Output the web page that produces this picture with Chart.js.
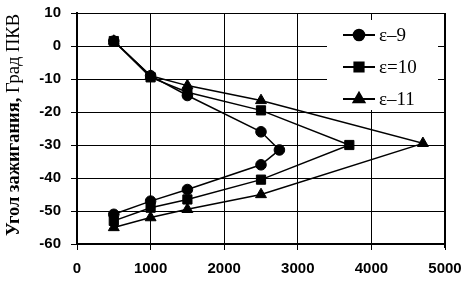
<!DOCTYPE html>
<html>
<head>
<meta charset="utf-8">
<script src="https://cdn.jsdelivr.net/npm/chart.js@4"></script>
<style>
  html, body { margin: 0; padding: 0; background: #fff; }
  #wrap { width: 469px; height: 281px; position: relative; }
</style>
</head>
<body>
<div id="wrap"><canvas id="angleChart"></canvas></div>
<script>
// Частота вращения (мин-1) и угол зажигания по трём степеням сжатия
const rpm9  = [500, 1000, 1500, 2500, 2750, 2500, 1500, 1000, 500];
const ang9  = [1.5, -9, -15, -26, -31.5, -36, -43.5, -47, -51];

const rpm10 = [500, 1000, 1500, 2500, 3700, 2500, 1500, 1000, 500];
const ang10 = [1.5, -9.5, -14, -19.5, -30, -40.5, -46.5, -49, -53];

const rpm11 = [500, 1000, 1500, 2500, 4700, 2500, 1500, 1000, 500];
const ang11 = [1.5, -9, -12, -16.5, -29.5, -45, -49.5, -52, -55];

const seriesLabels = ['ε–9', 'ε=10', 'ε–11'];
const seriesMarkers = ['circle', 'rect', 'triangle'];
const markerSizes = [5.3, 6.5, 6.3];

const xTicks = [0, 1000, 2000, 3000, 4000, 5000];
const yTicks = [10, 0, -10, -20, -30, -40, -50, -60];

const toPoints = (xs, ys) => xs.map((x, i) => ({ x: x, y: ys[i] }));

// Подпись оси Y: первая часть жирная, вторая обычная
const yTitlePlugin = {
    id: 'yTitle',
    afterDraw(chart) {
        const ctx = chart.ctx;
        const boldPart = 'Угол зажигания, ';
        const normPart = 'Град ПКВ';
        const size = 18.5;
        ctx.save();
        ctx.translate(14, 125);
        ctx.rotate(-Math.PI / 2);
        ctx.fillStyle = '#000';
        ctx.textBaseline = 'middle';
        ctx.font = 'bold ' + size + 'px "Liberation Serif", serif';
        const w1 = ctx.measureText(boldPart).width;
        ctx.font = size + 'px "Liberation Serif", serif';
        const w2 = ctx.measureText(normPart).width;
        let x = -(w1 + w2) / 2;
        ctx.font = 'bold ' + size + 'px "Liberation Serif", serif';
        ctx.textAlign = 'left';
        ctx.fillText(boldPart, x, 0);
        ctx.font = size + 'px "Liberation Serif", serif';
        ctx.fillText(normPart, x + w1, 0);
        ctx.restore();
    }
};

// Легенда внутри области графика на белом фоне
const innerLegendPlugin = {
    id: 'innerLegend',
    afterDraw(chart) {
        const ctx = chart.ctx;
        const left = 327, top = 20, width = 111, height = 90;
        ctx.save();
        ctx.fillStyle = '#fff';
        ctx.fillRect(left, top, width, height);
        chart.data.datasets.forEach((ds, i) => {
            const y = 35 + i * 32;
            ctx.strokeStyle = '#000';
            ctx.lineWidth = 2;
            ctx.beginPath();
            ctx.moveTo(343, y);
            ctx.lineTo(375, y);
            ctx.stroke();
            ctx.fillStyle = '#000';
            Chart.helpers.drawPoint(ctx, {
                pointStyle: ds.pointStyle,
                radius: ds.pointRadius,
                borderWidth: 1
            }, 359, y);
            ctx.fillStyle = '#000';
            ctx.font = '19px "Liberation Serif", serif';
            ctx.textAlign = 'left';
            ctx.textBaseline = 'middle';
            ctx.fillText(ds.label, 379, y + 1);
        });
        ctx.restore();
    }
};

const ctx = document.getElementById('angleChart').getContext('2d');

const datasets = [toPoints(rpm9, ang9), toPoints(rpm10, ang10), toPoints(rpm11, ang11)].map((pts, i) => ({
    label: seriesLabels[i],
    data: pts,
    borderColor: '#000',
    backgroundColor: '#000',
    borderWidth: 1.5,
    pointStyle: seriesMarkers[i],
    pointRadius: markerSizes[i],
    pointBackgroundColor: '#000',
    pointBorderColor: '#000',
    pointBorderWidth: 1,
    tension: 0,
    fill: false
}));

const chart = new Chart(ctx, {
    type: 'line',
    data: { datasets: datasets },
    options: {
        responsive: true,
        maintainAspectRatio: false,
        animation: false,
        layout: { padding: { left: 0, right: 24, top: 13, bottom: 0 } },
        plugins: {
            legend: { display: false },
            tooltip: { enabled: false }
        },
        scales: {
            x: {
                type: 'linear',
                min: 0,
                max: 5000,
                afterBuildTicks: s => { s.ticks = xTicks.map(v => ({ value: v })); },
                afterFit: s => { s.height = 37; s.paddingLeft = 0; s.paddingRight = 0; },
                grid: { color: '#000', lineWidth: 1, tickLength: 6, tickColor: '#000' },
                border: { color: '#000', width: 2 },
                ticks: {
                    color: '#000',
                    padding: 10,
                    maxRotation: 0,
                    callback: v => String(v),
                    font: { family: '"Liberation Sans", Arial, sans-serif', size: 15, weight: 'bold' }
                }
            },
            y: {
                min: -60,
                max: 10,
                afterBuildTicks: s => { s.ticks = yTicks.map(v => ({ value: v })); },
                afterFit: s => { s.width = 77; s.paddingTop = 0; s.paddingBottom = 0; },
                grid: { color: '#000', lineWidth: 1, tickLength: 6, tickColor: '#000' },
                border: { color: '#000', width: 2 },
                ticks: {
                    color: '#000',
                    padding: 10,
                    callback: v => String(v),
                    font: { family: '"Liberation Sans", Arial, sans-serif', size: 15, weight: 'bold' }
                }
            }
        }
    },
    plugins: [yTitlePlugin, innerLegendPlugin, {
        id: 'rightBorder',
        afterDraw(chart) {
            const a = chart.chartArea;
            const c = chart.ctx;
            c.save();
            c.strokeStyle = '#000';
            c.lineWidth = 2;
            c.beginPath();
            c.moveTo(a.right, a.top);
            c.lineTo(a.right, a.bottom + 4);
            c.stroke();
            c.restore();
        }
    }]
});
</script>
</body>
</html>
